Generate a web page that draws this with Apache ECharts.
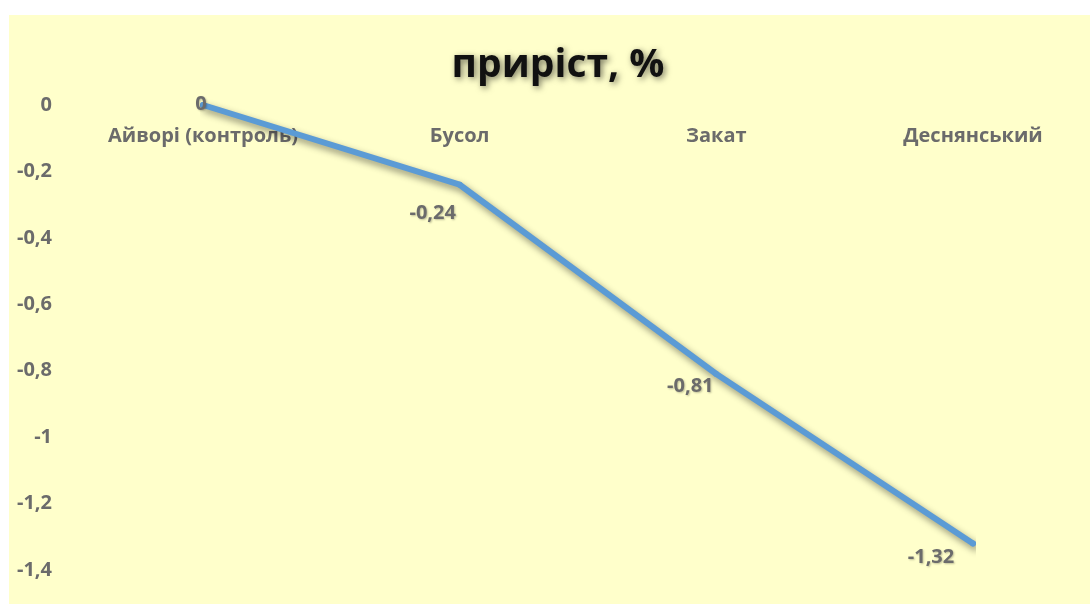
<!DOCTYPE html>
<html>
<head>
<meta charset="utf-8">
<script src="https://cdn.jsdelivr.net/npm/echarts@6/dist/echarts.min.js"></script>
<style>
  html, body { margin: 0; padding: 0; background: #ffffff; }
  #chart { width: 1090px; height: 604px; }
</style>
</head>
<body>
<div id="chart"></div>
<script>
// Variety names and growth (%) relative to the control
const categories = ['Айворі (контроль)', 'Бусол', 'Закат', 'Деснянський'];
const growth = [0, -0.24, -0.81, -1.32];
const chartTitle = 'приріст, %';

// Nudges of each value label away from its point, in pixels
const labelShift = [[-2, -1], [-27, 29], [-26, 12], [-42, 14]];

const fmt = v => {
  const s = (Math.round(v * 100) / 100).toString();
  return s.replace('.', ',');
};

const labelFont = { fontFamily: 'Open Sans', fontWeight: 'bold', fontSize: 20, color: '#6b6b6b' };

const chart = echarts.init(document.getElementById('chart'), null, { renderer: 'canvas' });
chart.setOption({
  backgroundColor: 'transparent',
  animation: false,
  graphic: [{
    type: 'rect', z: -10, silent: true,
    shape: { x: 9, y: 15, width: 1081, height: 589 },
    style: { fill: '#FFFFCB' }
  }],
  title: {
    text: chartTitle,
    left: 553, top: 41, textAlign: 'center',
    textStyle: {
      fontFamily: 'Open Sans', fontWeight: 'bold', fontSize: 39, color: '#111111',
      textShadowColor: 'rgba(0,0,0,0.55)', textShadowBlur: 6,
      textShadowOffsetX: 2, textShadowOffsetY: 2
    }
  },
  grid: { left: 203, top: 105, right: 117, height: 465, containLabel: false },
  xAxis: {
    type: 'category',
    data: categories,
    position: 'top',
    boundaryGap: false,
    axisLine: { show: false },
    axisTick: { show: false },
    splitLine: { show: false },
    axisLabel: Object.assign({ inside: true, margin: 21, interval: 0 }, labelFont)
  },
  yAxis: {
    type: 'value',
    min: -1.4, max: 0, interval: 0.2,
    offset: 132,
    axisLine: { show: false },
    axisTick: { show: false },
    splitLine: { show: false },
    axisLabel: Object.assign({ margin: 19, formatter: v => fmt(v) }, labelFont)
  },
  series: [{
    type: 'line',
    clip: false,
    data: growth.map((v, i) => ({
      value: v,
      label: { offset: labelShift[i] }
    })),
    // small round dots in the line colour give the stroke rounded ends
    symbol: 'circle',
    symbolSize: 6,
    itemStyle: { color: '#5B9BD5' },
    lineStyle: {
      color: '#5B9BD5', width: 6, cap: 'round', join: 'round',
      shadowColor: 'rgba(0,0,0,0.45)', shadowBlur: 7,
      shadowOffsetX: 3, shadowOffsetY: 4
    },
    label: Object.assign({
      show: true, position: 'inside',
      formatter: p => fmt(p.value),
      textShadowColor: 'rgba(0,0,0,0.25)', textShadowBlur: 2,
      textShadowOffsetX: 1, textShadowOffsetY: 1
    }, labelFont)
  }]
});
</script>
</body>
</html>
